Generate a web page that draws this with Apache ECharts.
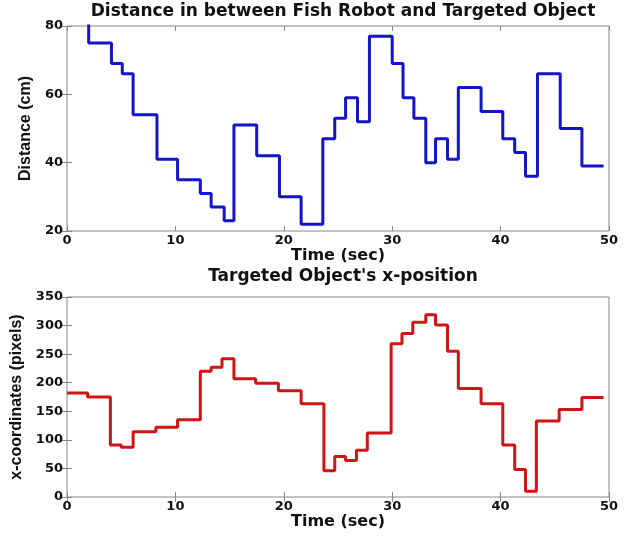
<!DOCTYPE html>
<html>
<head>
<meta charset="utf-8">
<script src="https://cdn.jsdelivr.net/npm/echarts@6/dist/echarts.min.js"></script>
<style>
html,body{margin:0;padding:0;background:#fff;}
#chart{width:644px;height:538px;}
</style>
</head>
<body>
<div id="chart"></div>
<script>
var topTitle = 'Distance in between Fish Robot and Targeted Object';
var bottomTitle = "Targeted Object's x-position";
var xName = 'Time (sec)';
var topYName = 'Distance (cm)';
var bottomYName = 'x-coordinates (pixels)';

var topTimes = [0,2,4.1,5.1,6.1,8.3,10.2,12.3,13.3,14.5,15.4,17.5,19.6,21.6,23.6,24.7,25.7,26.8,27.9,30,31,32,33.1,34,35.1,36.1,38.2,40.2,41.3,42.3,43.4,45.5,47.5,49.5];
var topValues = [81,75,69,66,54,41,35,31,27,23,51,42,30,22,47,53,59,52,77,69,59,53,40,47,41,62,55,47,43,36,66,50,39,39];

var bottomTimes = [0,1.9,4.0,5.0,6.1,8.2,10.2,12.3,13.3,14.3,15.4,17.4,19.5,21.6,23.7,24.7,25.7,26.7,27.7,29.9,30.9,31.9,33.1,34,35.1,36.1,38.2,40.2,41.3,42.3,43.3,45.4,47.5,49.5];
var bottomValues = [182,175,91,87,114,122,135,220,227,242,207,199,186,163,46,71,64,82,112,268,286,306,319,301,255,190,163,91,48,10,133,153,174,174];

function pairs(xs, ys){ return xs.map(function(x,i){ return [x, ys[i]]; }); }

var WIDE = '"DejaVu Sans", Verdana, sans-serif';
var FONT = 'Arial, "Liberation Sans", sans-serif';
var labelStyle = {color:'#111', fontWeight:'bold', fontSize:13, fontFamily:WIDE};
var xNameStyle = {color:'#111', fontWeight:'bold', fontSize:16, fontFamily:WIDE};
var yNameStyle = {color:'#111', fontWeight:'bold', fontSize:16, fontFamily:FONT};
var titleStyle = {color:'#111', fontWeight:'bold', fontSize:17, fontFamily:WIDE};
var tickStyle = {show:true, inside:true, length:5, lineStyle:{color:'#888'}};

function xAxes(gi){
  return [
    {type:'value', gridIndex:gi, min:0, max:50, interval:10, position:'bottom',
     axisLine:{show:false}, axisTick:tickStyle, splitLine:{show:false},
     axisLabel:Object.assign({margin:3}, labelStyle),
     name:xName, nameLocation:'middle', nameGap:15, nameTextStyle:xNameStyle},
    {type:'value', gridIndex:gi, min:0, max:50, interval:10, position:'top',
     axisLine:{show:false}, axisTick:tickStyle, splitLine:{show:false}, axisLabel:{show:false}}
  ];
}
function yAxes(gi, min, max, itv, name, gap){
  return [
    {type:'value', gridIndex:gi, min:min, max:max, interval:itv, position:'left',
     axisLine:{show:false}, axisTick:tickStyle, splitLine:{show:false},
     axisLabel:Object.assign({margin:4}, labelStyle),
     name:name, nameLocation:'middle', nameGap:gap, nameRotate:90, nameTextStyle:yNameStyle},
    {type:'value', gridIndex:gi, min:min, max:max, interval:itv, position:'right',
     axisLine:{show:false}, axisTick:tickStyle, splitLine:{show:false}, axisLabel:{show:false}}
  ];
}

var chart = echarts.init(document.getElementById('chart'), null, {renderer:'canvas'});
chart.setOption({
  backgroundColor:'#fff',
  animation:false,
  title:[
    {text:topTitle, left:338, top:-2, textAlign:'center', textStyle:titleStyle},
    {text:bottomTitle, left:338, top:263, textAlign:'center', textStyle:titleStyle}
  ],
  grid:[
    {left:67, top:26, width:542, height:205, show:true, borderColor:'#888', borderWidth:1, backgroundColor:'#fff'},
    {left:67, top:297, width:542, height:200, show:true, borderColor:'#888', borderWidth:1, backgroundColor:'#fff'}
  ],
  xAxis: xAxes(0).concat(xAxes(1)),
  yAxis: yAxes(0, 20, 80, 20, topYName, 31).concat(yAxes(1, 0, 350, 50, bottomYName, 35)),
  series:[
    {type:'line', xAxisIndex:0, yAxisIndex:0, step:'end', showSymbol:false, symbol:'none', clip:true,
     lineStyle:{color:'#1414c8', width:3}, data:pairs(topTimes, topValues)},
    {type:'line', xAxisIndex:2, yAxisIndex:2, step:'end', showSymbol:false, symbol:'none', clip:true,
     lineStyle:{color:'#d01414', width:3}, data:pairs(bottomTimes, bottomValues)}
  ]
});
</script>
</body>
</html>
